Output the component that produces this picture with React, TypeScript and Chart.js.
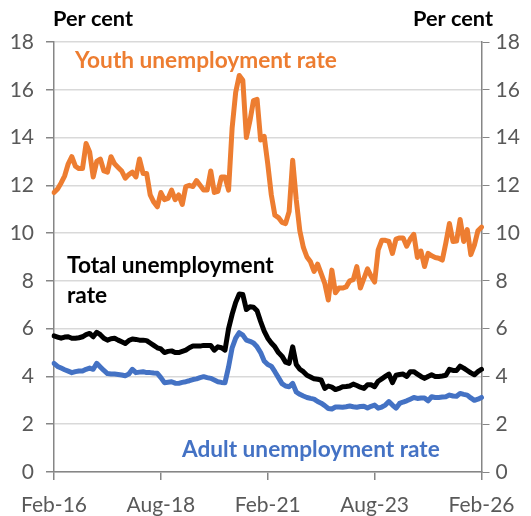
import React, { useEffect, useRef } from 'react';
import { Chart, registerables } from 'chart.js';

Chart.register(...registerables);

// Month categories from Feb-16 to Feb-26 (121 months)
const monthNames = ['Jan', 'Feb', 'Mar', 'Apr', 'May', 'Jun', 'Jul', 'Aug', 'Sep', 'Oct', 'Nov', 'Dec'];
const startYear = 2016;
const startMonth = 1; // Feb
const monthCount = 121;
const categories: string[] = [];
for (let i = 0; i < monthCount; i++) {
  const m = (startMonth + i) % 12;
  const y = startYear + Math.floor((startMonth + i) / 12);
  categories.push(`${monthNames[m]}-${String(y % 100).padStart(2, '0')}`);
}
const tickLabels = ['Feb-16', 'Aug-18', 'Feb-21', 'Aug-23', 'Feb-26'];

const youthRate = [
  11.7, 11.85, 12.1, 12.4, 12.9, 13.2, 12.8, 12.7, 12.7, 13.75,
  13.4, 12.35, 13.0, 13.1, 12.6, 12.55, 13.2, 12.9, 12.75, 12.6,
  12.3, 12.45, 12.55, 12.35, 13.1, 12.5, 12.5, 11.6, 11.3, 11.1,
  11.7, 11.4, 11.45, 11.8, 11.4, 11.6, 11.2, 11.95, 12.0, 11.95,
  12.2, 12.0, 11.8, 11.8, 12.6, 11.7, 11.75, 12.35, 12.35, 11.8,
  14.4, 15.9, 16.6, 16.4, 14.0, 14.7, 15.55, 15.6, 13.9, 14.05,
  12.9, 11.6, 10.75, 10.65, 10.45, 10.4, 10.9, 13.05, 11.4, 10.1,
  9.4, 9.0, 8.8, 8.4, 8.7, 8.3, 7.9, 7.2, 8.45, 7.5,
  7.7, 7.7, 7.75, 8.0, 8.05, 8.6, 7.7, 8.1, 8.5, 8.2,
  7.95, 9.3, 9.7, 9.7, 9.65, 9.15, 9.75, 9.8, 9.8, 9.45,
  9.75, 9.95, 8.98, 9.25, 8.6, 9.15, 9.05, 8.98, 8.95, 8.87,
  9.6, 10.4, 9.65, 9.67, 10.57, 9.65, 10.15, 9.1, 9.5, 10.1,
  10.25,
];

const totalRate = [
  5.7, 5.65, 5.6, 5.65, 5.66, 5.6, 5.6, 5.62, 5.66, 5.75,
  5.8, 5.66, 5.85, 5.75, 5.6, 5.52, 5.58, 5.6, 5.52, 5.45,
  5.38, 5.5, 5.57, 5.55, 5.52, 5.52, 5.5, 5.4, 5.3, 5.2,
  5.15, 5.0, 5.05, 5.07, 5.0, 5.0, 5.05, 5.1, 5.2, 5.27,
  5.27, 5.27, 5.3, 5.3, 5.3, 5.1, 5.24, 5.2, 5.1, 6.0,
  6.6, 7.1, 7.45, 7.43, 6.8, 6.92, 6.9, 6.75, 6.3, 5.9,
  5.6, 5.4, 5.24, 5.0, 4.85, 4.6, 4.55, 5.24, 4.5, 4.3,
  4.2, 4.05, 3.98, 3.9, 3.88, 3.85, 3.5, 3.6, 3.55, 3.45,
  3.5, 3.57, 3.58, 3.6, 3.68, 3.62, 3.55, 3.5, 3.65, 3.65,
  3.57, 3.8, 3.9, 4.0, 4.1, 3.74, 4.05, 4.08, 4.1, 4.0,
  4.2, 4.2, 4.1, 4.0, 3.92, 4.0, 4.07, 4.0, 4.0, 4.02,
  4.05, 4.3, 4.25, 4.25, 4.43, 4.35, 4.25, 4.15, 4.07, 4.2,
  4.3,
];

const adultRate = [
  4.55, 4.42, 4.35, 4.28, 4.22, 4.16, 4.2, 4.23, 4.23, 4.3,
  4.35, 4.3, 4.55, 4.4, 4.25, 4.12, 4.1, 4.1, 4.08, 4.06,
  4.03, 4.1, 4.3, 4.16, 4.18, 4.2, 4.16, 4.16, 4.14, 4.13,
  3.95, 3.74, 3.76, 3.78, 3.72, 3.71, 3.75, 3.78, 3.82, 3.87,
  3.9, 3.95, 3.99, 3.95, 3.92, 3.85, 3.78, 3.75, 3.74, 4.4,
  5.2, 5.6, 5.83, 5.73, 5.52, 5.47, 5.4, 5.24, 5.0, 4.65,
  4.5, 4.43, 4.2, 3.95, 3.7, 3.6, 3.57, 3.71, 3.35, 3.25,
  3.18, 3.12, 3.08, 3.05, 2.95, 2.88, 2.78, 2.66, 2.64, 2.72,
  2.72, 2.71, 2.73, 2.76, 2.73, 2.71, 2.74, 2.75, 2.68, 2.75,
  2.8, 2.67, 2.72, 2.8, 2.95, 2.8, 2.67, 2.87, 2.93, 2.98,
  3.05, 3.12, 3.08, 3.1, 3.1, 2.98, 3.15, 3.12, 3.12, 3.14,
  3.15, 3.22, 3.18, 3.17, 3.29, 3.25, 3.22, 3.1, 3.0, 3.05,
  3.12,
];

const ORANGE = '#ED7D31';
const BLUE = '#4472C4';
const BLACK = '#000000';
const AXIS = '#868686';
const GRID = '#d9d9d9';
const TICK_TEXT = '#595959';
const FONT = 'Lato, "Open Sans", sans-serif';

type Note = { text: string; x: number; baseline: number; width?: number; color: string };

const notes: Note[] = [
  { text: 'Per cent', x: 53, baseline: 25.5, width: 80, color: BLACK },
  { text: 'Per cent', x: 413, baseline: 25.5, width: 80, color: BLACK },
  { text: 'Youth unemployment rate', x: 75, baseline: 67.5, width: 262, color: ORANGE },
  { text: 'Total unemployment', x: 67, baseline: 272.5, width: 207, color: BLACK },
  { text: 'rate', x: 67, baseline: 302.5, color: BLACK },
  { text: 'Adult unemployment rate', x: 182, baseline: 457, width: 258, color: BLUE },
];

const notesPlugin = {
  id: 'notes',
  afterDraw(chart: any) {
    const ctx = chart.ctx as CanvasRenderingContext2D;
    ctx.save();
    ctx.textBaseline = 'alphabetic';
    ctx.textAlign = 'left';
    let lastSize = 20;
    for (const n of notes) {
      let size = lastSize;
      if (n.width) {
        ctx.font = `bold 20px ${FONT}`;
        const w = ctx.measureText(n.text).width;
        size = (20 * n.width) / w;
      }
      lastSize = size;
      ctx.font = `bold ${size}px ${FONT}`;
      ctx.fillStyle = n.color;
      ctx.fillText(n.text, n.x, n.baseline);
    }
    ctx.restore();
  },
};

export default function App() {
  const ref = useRef<HTMLCanvasElement | null>(null);

  useEffect(() => {
    if (!ref.current) return;
    const lineDs = (label: string, data: number[], color: string) => ({
      label,
      data,
      borderColor: color,
      backgroundColor: color,
      borderWidth: 5,
      pointRadius: 0,
      tension: 0,
      borderJoinStyle: 'round' as const,
      borderCapStyle: 'round' as const,
      yAxisID: 'y',
    });
    const tickFont = { family: FONT, size: 21 };
    const chart = new Chart(ref.current, {
      type: 'line',
      data: {
        labels: categories,
        datasets: [
          lineDs('Youth unemployment rate', youthRate, ORANGE),
          lineDs('Total unemployment rate', totalRate, BLACK),
          lineDs('Adult unemployment rate', adultRate, BLUE),
        ],
      },
      options: {
        animation: false,
        responsive: true,
        maintainAspectRatio: false,
        layout: { padding: { top: 42, left: 0, right: 0, bottom: 0 } },
        plugins: {
          legend: { display: false },
          tooltip: { enabled: false },
        },
        scales: {
          x: {
            type: 'category',
            offset: false,
            grid: { drawOnChartArea: false, color: AXIS, tickColor: AXIS, tickLength: 8, lineWidth: 1.5 },
            border: { color: AXIS, width: 1.5 },
            ticks: {
              autoSkip: false,
              maxRotation: 0,
              minRotation: 0,
              color: TICK_TEXT,
              font: tickFont,
              padding: 13,
              callback: (_v: any, i: number) => (tickLabels.includes(categories[i]) && i % 30 === 0 ? categories[i] : null),
            },
            afterFit: (s: any) => {
              s.height = 44;
            },
          },
          y: {
            position: 'left',
            min: 0,
            max: 18,
            grid: { color: GRID, lineWidth: 1.5, tickColor: AXIS, tickLength: 8 },
            border: { color: AXIS, width: 1.5 },
            ticks: { stepSize: 2, color: TICK_TEXT, font: tickFont, padding: 12 },
            afterFit: (s: any) => {
              s.width = 54;
            },
          },
          y2: {
            position: 'right',
            min: 0,
            max: 18,
            grid: { drawOnChartArea: false, tickColor: AXIS, tickLength: 8 },
            border: { color: AXIS, width: 1.5 },
            ticks: { stepSize: 2, color: TICK_TEXT, font: tickFont, padding: 6 },
            afterFit: (s: any) => {
              s.width = 49.5;
            },
          },
        },
      },
      plugins: [notesPlugin],
    });
    return () => chart.destroy();
  }, []);

  return (
    <div style={{ position: 'fixed', left: 0, top: 0, width: 531, height: 516, background: '#fff' }}>
      <canvas ref={ref} />
    </div>
  );
}
